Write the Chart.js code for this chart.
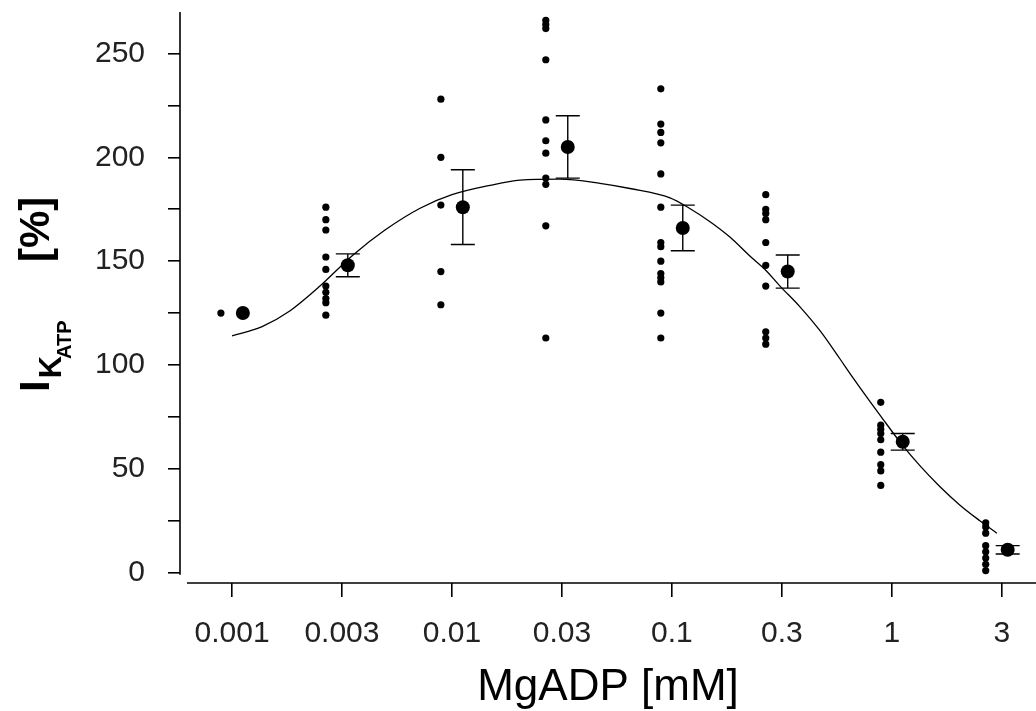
<!DOCTYPE html>
<html lang="en">
<head>
<meta charset="UTF-8">
<title>IKATP vs MgADP</title>
<script src="https://cdn.jsdelivr.net/npm/chart.js"></script>
<style>
  html, body { margin: 0; padding: 0; background: #fff; }
  #wrap { width: 1036px; height: 711px; }
</style>
</head>
<body>
<div id="wrap"><canvas id="chart" width="1036" height="711"></canvas></div>
<script>
// MgADP concentrations (mM)
const conc = [0.001, 0.003, 0.01, 0.03, 0.1, 0.3, 1, 3];

// single patches, one list per concentration (% of control)
const raw = [
    [125],
    [176, 170, 165, 152, 146, 138, 135, 132, 130, 124],
    [228, 200, 177, 145, 129],
    [266, 264, 262, 247, 218, 208, 202, 190, 187, 167, 113],
    [233, 216, 212, 207, 192, 176, 159, 157, 150, 144, 142, 140, 125, 113],
    [182, 175, 173, 170, 159, 148, 138, 116, 113, 110],
    [82, 71, 69, 67, 64, 58, 52, 49, 42],
    [24, 22, 19, 13, 10, 7, 4, 1]
];

// mean and SEM per concentration
const means = [125, 148, 176, 205, 166, 145, 63, 11];
const sem = [0, 5.5, 18, 15, 11, 8, 4, 2];

// fitted curve
const curveX = [0.001, 0.00137, 0.00183, 0.00251, 0.00355, 0.00496, 0.00716, 0.01, 0.0149, 0.0204,
    0.0309, 0.0471, 0.0644, 0.098, 0.12, 0.149, 0.184, 0.226, 0.265, 0.31, 0.382, 0.471, 0.58,
    0.644, 0.794, 0.881, 1.087, 1.34, 1.65, 2.04, 2.51, 3.0];
const curveY = [114, 118.5, 126, 138, 153, 165, 175.5, 182, 186.5, 189,
    189.5, 187.5, 185, 180.5, 175.5, 169, 161.5, 152.5, 146, 138, 128, 116.5, 103,
    96, 82.5, 76, 63, 51.5, 41.5, 32.5, 25, 19];

// axis ticks (half-decade steps on x)
const xTickVals = [0.001, 0.00316, 0.01, 0.0316, 0.1, 0.316, 1, 3.16];
const xTickLabels = ['0.001', '0.003', '0.01', '0.03', '0.1', '0.3', '1', '3'];
const yTickVals = [0, 25, 50, 75, 100, 125, 150, 175, 200, 225, 250];
const yTickLabels = ['0', '', '50', '', '100', '', '150', '', '200', '', '250'];

// the figure draws single values a bit left and means a bit right of each dose
const dotShift = 0.89;
const meanShift = 1.12;

const FONT = '"Liberation Sans", Arial, sans-serif';

const rawPoints = [];
raw.forEach((list, i) => {
    list.forEach(v => rawPoints.push({ x: conc[i] * dotShift, y: v }));
});
const meanPoints = means.map((m, i) => ({ x: conc[i] * meanShift, y: m }));
const curvePoints = curveX.map((x, i) => ({ x: x, y: curveY[i] }));

// axis lines, error bars and the y title with subscripts
const decor = {
    id: 'decor',
    afterDatasetsDraw(chart) {
        const ctx = chart.ctx;
        const xs = chart.scales.x;
        const ys = chart.scales.y;
        const area = chart.chartArea;
        ctx.save();
        ctx.strokeStyle = '#000';
        ctx.lineWidth = 1.6;

        // axes
        ctx.beginPath();
        ctx.moveTo(area.left, area.top);
        ctx.lineTo(area.left, ys.getPixelForValue(-1));
        ctx.moveTo(area.left + 7, area.bottom);
        ctx.lineTo(area.right, area.bottom);
        ctx.stroke();

        // error bars
        ctx.lineWidth = 1.4;
        means.forEach((m, i) => {
            if (!sem[i]) return;
            const px = xs.getPixelForValue(conc[i] * meanShift);
            const top = ys.getPixelForValue(m + sem[i]);
            const bot = ys.getPixelForValue(m - sem[i]);
            ctx.beginPath();
            ctx.moveTo(px, top); ctx.lineTo(px, bot);
            ctx.moveTo(px - 12, top); ctx.lineTo(px + 12, top);
            ctx.moveTo(px - 12, bot); ctx.lineTo(px + 12, bot);
            ctx.stroke();
        });

        // y title: I K ATP [%]
        ctx.translate(49, 392);
        ctx.rotate(-Math.PI / 2);
        ctx.fillStyle = '#000';
        ctx.textBaseline = 'alphabetic';
        let cx = 0;
        ctx.font = 'bold 42px ' + FONT;
        ctx.fillText('I', cx, 0);
        cx += ctx.measureText('I').width + 2;
        ctx.font = 'bold 31px ' + FONT;
        ctx.fillText('K', cx, 12);
        cx += ctx.measureText('K').width - 3;
        ctx.font = 'bold 20px ' + FONT;
        ctx.fillText('ATP', cx, 22);
        ctx.font = 'bold 42px ' + FONT;
        ctx.fillText('[%]', 130, 0);
        ctx.restore();
    }
};

const ctx = document.getElementById('chart').getContext('2d');
const chart = new Chart(ctx, {
    type: 'scatter',
    data: {
        datasets: [
            {
                type: 'line',
                data: curvePoints,
                showLine: true,
                borderColor: '#000',
                borderWidth: 1.3,
                pointRadius: 0,
                fill: false,
                cubicInterpolationMode: 'monotone'
            },
            {
                data: rawPoints,
                backgroundColor: '#000',
                borderWidth: 0,
                pointRadius: 3.6
            },
            {
                data: meanPoints,
                backgroundColor: '#000',
                borderWidth: 0,
                pointRadius: 7
            }
        ]
    },
    options: {
        responsive: false,
        devicePixelRatio: 1,
        animation: false,
        layout: { autoPadding: false, padding: { top: 12, left: 0, right: 0, bottom: 0 } },
        plugins: {
            legend: { display: false },
            tooltip: { enabled: false }
        },
        scales: {
            x: {
                type: 'logarithmic',
                position: 'bottom',
                min: 0.00058,
                max: 4.52,
                bounds: 'data',
                afterBuildTicks: s => { s.ticks = xTickVals.map(v => ({ value: v })); },
                afterFit: s => {
                    s.height = 128;
                    s.paddingLeft = 0;
                    s.paddingRight = 0;
                },
                ticks: {
                    callback: (v, i) => xTickLabels[i],
                    autoSkip: false,
                    maxRotation: 0,
                    minRotation: 0,
                    padding: 19,
                    color: '#222',
                    font: { family: FONT, size: 30 }
                },
                grid: {
                    display: true,
                    drawOnChartArea: false,
                    drawTicks: true,
                    tickLength: 14,
                    color: '#000',
                    lineWidth: 1.6
                },
                border: { display: false },
                title: {
                    display: true,
                    text: 'MgADP [mM]',
                    color: '#000',
                    font: { family: FONT, size: 44 },
                    padding: { top: 0, bottom: -3 }
                }
            },
            y: {
                type: 'linear',
                min: -5,
                max: 270,
                bounds: 'data',
                afterBuildTicks: s => { s.ticks = yTickVals.map(v => ({ value: v })); },
                afterFit: s => {
                    s.width = 180;
                    s.paddingTop = 0;
                    s.paddingBottom = 0;
                },
                ticks: {
                    callback: (v, i) => yTickLabels[i],
                    padding: 23,
                    color: '#222',
                    font: { family: FONT, size: 30 }
                },
                grid: {
                    display: true,
                    drawOnChartArea: false,
                    drawTicks: true,
                    tickLength: 12,
                    color: '#000',
                    lineWidth: 1.6
                },
                border: { display: false }
            }
        }
    },
    plugins: [decor]
});
</script>
</body>
</html>
